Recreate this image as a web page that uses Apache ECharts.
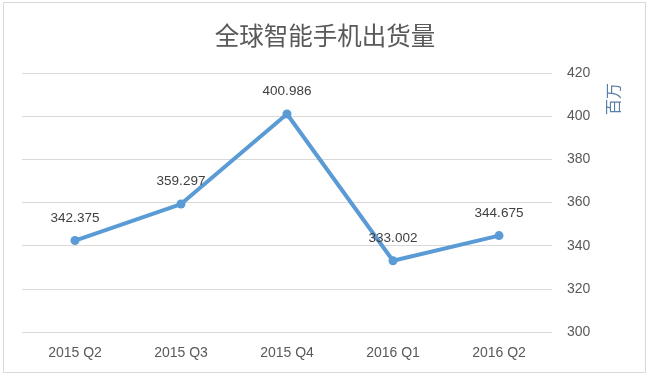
<!DOCTYPE html>
<html>
<head>
<meta charset="utf-8">
<script src="https://cdn.jsdelivr.net/npm/echarts@6/dist/echarts.min.js"></script>
<style>
html,body{margin:0;padding:0;background:#fff;}
#wrap{position:absolute;left:3px;top:2px;width:643px;height:371px;border:1px solid #d9d9d9;box-sizing:border-box;}
#c{position:absolute;left:0;top:0;width:650px;height:376px;}
</style>
</head>
<body>
<div id="wrap"></div>
<div id="c"></div>
<script>
const categories = ['2015 Q2', '2015 Q3', '2015 Q4', '2016 Q1', '2016 Q2'];
const shipments = [342.375, 359.297, 400.986, 333.002, 344.675];
const yMin = 300, yMax = 420, yStep = 20;

const chart = echarts.init(document.getElementById('c'));
chart.setOption({
  animation: false,
  title: {
    text: '全球智能手机出货量',
    left: 'center',
    top: 18,
    textStyle: {fontFamily: 'Noto Sans CJK SC', fontSize: 24.5, fontWeight: 'normal', color: '#595959'}
  },
  grid: {left: 22, right: 98, top: 73, bottom: 44},
  xAxis: {
    type: 'category',
    data: categories,
    boundaryGap: true,
    axisLine: {show: false},
    axisTick: {show: false},
    axisLabel: {color: '#595959', fontSize: 14, fontFamily: 'Liberation Sans', margin: 14}
  },
  yAxis: {
    type: 'value',
    position: 'right',
    min: yMin, max: yMax, interval: yStep,
    name: '百万',
    nameLocation: 'end',
    nameRotate: 90,
    nameGap: -42,
    nameTextStyle: {color: '#5a7fa6', fontSize: 16, fontFamily: 'Noto Sans CJK SC', verticalAlign: 'top', padding: [53, 0, 0, 0]},
    axisLine: {show: false},
    axisTick: {show: false},
    splitLine: {lineStyle: {color: '#d9d9d9', width: 1}},
    axisLabel: {color: '#595959', fontSize: 14, fontFamily: 'Liberation Sans', margin: 15}
  },
  series: [{
    type: 'line',
    data: shipments,
    symbol: 'circle',
    symbolSize: 9,
    lineStyle: {color: '#5b9bd5', width: 4},
    itemStyle: {color: '#5b9bd5'},
    label: {
      show: true, position: 'top', distance: 11,
      color: '#404040', fontSize: 13.5, fontFamily: 'Liberation Sans',
      formatter: p => p.value.toFixed(3)
    }
  }]
});
</script>
</body>
</html>
